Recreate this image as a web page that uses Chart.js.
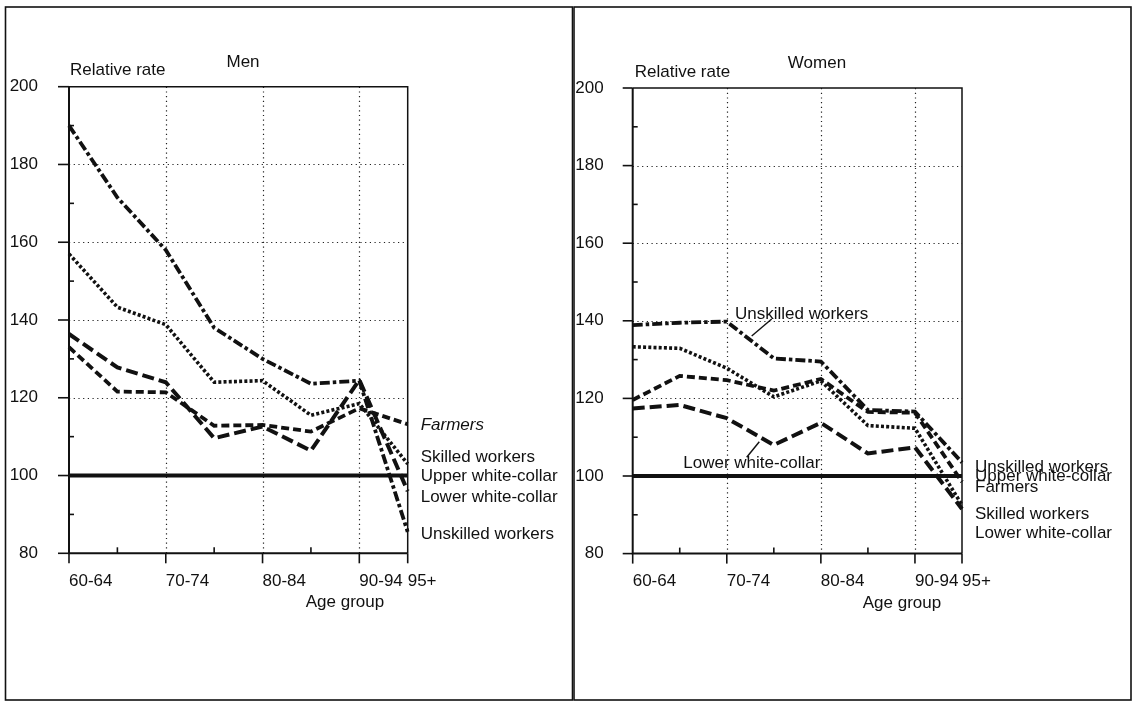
<!DOCTYPE html>
<html>
<head>
<meta charset="utf-8">
<script src="https://cdn.jsdelivr.net/npm/chart.js@4.4.1/dist/chart.umd.min.js"></script>
<style>
html,body{margin:0;padding:0;background:#fff;width:1136px;height:702px;overflow:hidden;}
canvas{position:absolute;top:0;}
#men{left:0;width:573px;height:702px;}
#women{left:573px;width:563px;height:702px;}
</style>
</head>
<body>
<canvas id="men" width="573" height="702"></canvas>
<canvas id="women" width="563" height="702"></canvas>
<script>
// ---------- DATA ----------
const ageGroups = ['60-64','65-69','70-74','75-79','80-84','85-89','90-94','95+'];
const shownAgeTicks = ['60-64','70-74','80-84','90-94','95+'];
const yTickValues = [80,100,120,140,160,180,200];
const yGridValues = [120,140,160,180];
const seriesNames = ['Unskilled workers','Skilled workers','Farmers','Lower white-collar','Upper white-collar'];

// Men
const menUnskilled = [190, 171.5, 158, 138, 130, 123.6, 124.4, 85.5];
const menSkilled   = [157, 143.3, 138.8, 124, 124.4, 115.5, 118.5, 103];
const menFarmers   = [133, 121.6, 121.4, 112.8, 113, 111.3, 117.3, 113.2];
const menLowerWC   = [136.4, 127.8, 124, 109.6, 112.6, 106.4, 124.6, 96];
const menUpperWC   = [100, 100, 100, 100, 100, 100, 100, 100];
// end-label anchor values (Men): Farmers, Skilled, Upper WC, Lower WC, Unskilled
const menEndLabelNames  = ['Farmers','Skilled workers','Upper white-collar','Lower white-collar','Unskilled workers'];
const menEndLabelValues = [112.8, 104.8, 99.7, 94.5, 84.9];

// Women
const womenUnskilled = [138.9, 139.5, 139.8, 130.3, 129.5, 117, 116.6, 103.5];
const womenSkilled   = [133.3, 132.9, 127.8, 120.4, 124.5, 113, 112.3, 92.5];
const womenFarmers   = [119.6, 125.8, 124.7, 122, 125, 116.5, 116.3, 98.5];
const womenLowerWC   = [117.4, 118.3, 114.9, 108, 113.7, 105.8, 107.4, 91.5];
const womenUpperWC   = [100, 100, 100, 100, 100, 100, 100, 100];
const womenEndLabelNames  = ['Unskilled workers','Upper white-collar','Farmers','Skilled workers','Lower white-collar'];
const womenEndLabelValues = [102.2, 99.8, 97.1, 90.2, 85.1];

// ---------- STYLE ----------
const FONT = '"Liberation Sans", Arial, Helvetica, sans-serif';
const FS = 17;
const INK = '#111';

const styles = {
  'Unskilled workers': {dash:[10,3,3.5,3], width:3.8},
  'Skilled workers':   {dash:[3,2.2], width:3.6},
  'Farmers':           {dash:[8,4], width:3.8},
  'Lower white-collar':{dash:[12,5], width:4},
  'Upper white-collar':{dash:[], width:4}
};

function makeDatasets(vals){
  return seriesNames.map((n,i)=>({
    label:n, data:vals[i], borderColor:INK, backgroundColor:INK,
    borderWidth:styles[n].width, borderDash:styles[n].dash,
    borderCapStyle:'butt', borderJoinStyle:'miter',
    pointRadius:0, tension:0, fill:false
  }));
}

const decor = {
  id:'decor',
  beforeDatasetsDraw(chart, args, o){
    const {ctx, chartArea:a, scales:{x,y}} = chart;
    ctx.save();
    ctx.strokeStyle = '#222'; ctx.lineWidth = 1.2; ctx.setLineDash([1.2,3.5]);
    yGridValues.forEach(v=>{
      const py = Math.round(y.getPixelForValue(v))+0.5;
      ctx.beginPath(); ctx.moveTo(a.left, py); ctx.lineTo(a.right, py); ctx.stroke();
    });
    ['70-74','80-84','90-94'].forEach(l=>{
      const px = Math.round(x.getPixelForValue(ageGroups.indexOf(l)))+0.5;
      ctx.beginPath(); ctx.moveTo(px, a.top); ctx.lineTo(px, a.bottom); ctx.stroke();
    });
    ctx.setLineDash([]);
    ctx.strokeStyle = INK;
    // frame
    ctx.lineWidth = 1.5;
    ctx.beginPath(); ctx.moveTo(a.left, a.top); ctx.lineTo(a.right, a.top); ctx.lineTo(a.right, a.bottom); ctx.stroke();
    ctx.lineWidth = 2;
    ctx.beginPath(); ctx.moveTo(a.left, a.top); ctx.lineTo(a.left, a.bottom); ctx.lineTo(a.right, a.bottom); ctx.stroke();
    // y ticks
    ctx.lineWidth = 1.6;
    yTickValues.forEach(v=>{
      const py = y.getPixelForValue(v);
      ctx.beginPath(); ctx.moveTo(a.left - o.yTick, py); ctx.lineTo(a.left, py); ctx.stroke();
      if (v < 200) {
        const pm = y.getPixelForValue(v+10);
        ctx.beginPath(); ctx.moveTo(a.left, pm); ctx.lineTo(a.left+5, pm); ctx.stroke();
      }
    });
    // x ticks
    ageGroups.forEach((l,i)=>{
      const px = x.getPixelForValue(i);
      ctx.beginPath();
      if (shownAgeTicks.includes(l)) { ctx.moveTo(px, a.bottom); ctx.lineTo(px, a.bottom+10); }
      else { ctx.moveTo(px, a.bottom); ctx.lineTo(px, a.bottom-6); }
      ctx.stroke();
    });
    ctx.restore();
  },
  afterDraw(chart, args, o){
    const {ctx, chartArea:a, scales:{x,y}} = chart;
    ctx.save();
    ctx.fillStyle = INK; ctx.strokeStyle = INK;
    ctx.textBaseline = 'middle';
    ctx.font = FS+'px '+FONT;
    // panel box
    ctx.lineWidth = 1.6;
    ctx.strokeRect(o.box[0], o.box[1], o.box[2]-o.box[0], o.box[3]-o.box[1]);
    // title & axis labels
    ctx.textAlign = 'center';
    ctx.fillText(o.title, o.titlePos[0], o.titlePos[1]);
    ctx.fillText('Age group', o.agePos[0], o.agePos[1]);
    ctx.textAlign = 'left';
    ctx.fillText('Relative rate', a.left + o.relDx, a.top - 16);
    // end labels
    o.endNames.forEach((n,i)=>{
      ctx.font = (o.italic.includes(n) ? 'italic ' : '') + FS+'px '+FONT;
      ctx.fillText(n, a.right + o.endDx, y.getPixelForValue(o.endVals[i]));
    });
    ctx.font = FS+'px '+FONT;
    // leader annotations
    (o.notes||[]).forEach(nt=>{
      ctx.fillText(nt.text, nt.tx, nt.ty);
      ctx.lineWidth = 1.4;
      ctx.beginPath(); ctx.moveTo(nt.l[0], nt.l[1]); ctx.lineTo(nt.l[2], nt.l[3]); ctx.stroke();
    });
    ctx.restore();
  }
};

function makeChart(id, vals, cfg){
  return new Chart(document.getElementById(id), {
    type:'line',
    data:{labels:ageGroups, datasets:makeDatasets(vals)},
    plugins:[decor],
    options:{
      responsive:false, animation:false, devicePixelRatio:1,
      events:[],
      layout:{padding:{left:0, top:cfg.top, right:cfg.right, bottom:cfg.bottom}},
      plugins:{legend:{display:false}, tooltip:{enabled:false}, title:{display:false},
        decor:cfg.decor},
      scales:{
        x:{type:'category', offset:false,
          grid:{display:false}, border:{display:false},
          afterFit(s){ s.height = 40; },
          ticks:{autoSkip:false, maxRotation:0, minRotation:0, align:'start', padding:10,
            color:INK, font:{family:FONT, size:FS},
            callback(v){ const l = this.getLabelForValue(v); return shownAgeTicks.includes(l) ? l : ''; }}
        },
        y:{min:80, max:200,
          grid:{display:false}, border:{display:false},
          afterFit(s){ s.width = cfg.yWidth; },
          afterBuildTicks(s){ s.ticks = yTickValues.map(v=>({value:v})); },
          ticks:{padding:cfg.yPad, color:INK, font:{family:FONT, size:FS}}
        }
      }
    }
  });
}

makeChart('men', [menUnskilled, menSkilled, menFarmers, menLowerWC, menUpperWC], {
  top:86.7, right:573-407.7, bottom:702-553.3-40, yWidth:69, yPad:23,
  decor:{
    yTick:11, box:[5.5,7,572.5,700], title:'Men', titlePos:[243,62], agePos:[345,602],
    relDx:1, endDx:13, endNames:menEndLabelNames, endVals:menEndLabelValues, italic:['Farmers'],
    notes:[]
  }
});

makeChart('women', [womenUnskilled, womenSkilled, womenFarmers, womenLowerWC, womenUpperWC], {
  top:88, right:563-389, bottom:702-553.6-40, yWidth:59.7, yPad:21,
  decor:{
    yTick:10, box:[1,7,558,700], title:'Women', titlePos:[244,63.5], agePos:[329,603],
    relDx:2, endDx:13, endNames:womenEndLabelNames, endVals:womenEndLabelValues, italic:[],
    notes:[
      {text:'Unskilled workers', tx:162, ty:314, l:[198.7,319,178.7,336]},
      {text:'Lower white-collar', tx:110.3, ty:463.3, l:[173.7,457.3,186.3,441.7]}
    ]
  }
});
</script>
</body>
</html>
